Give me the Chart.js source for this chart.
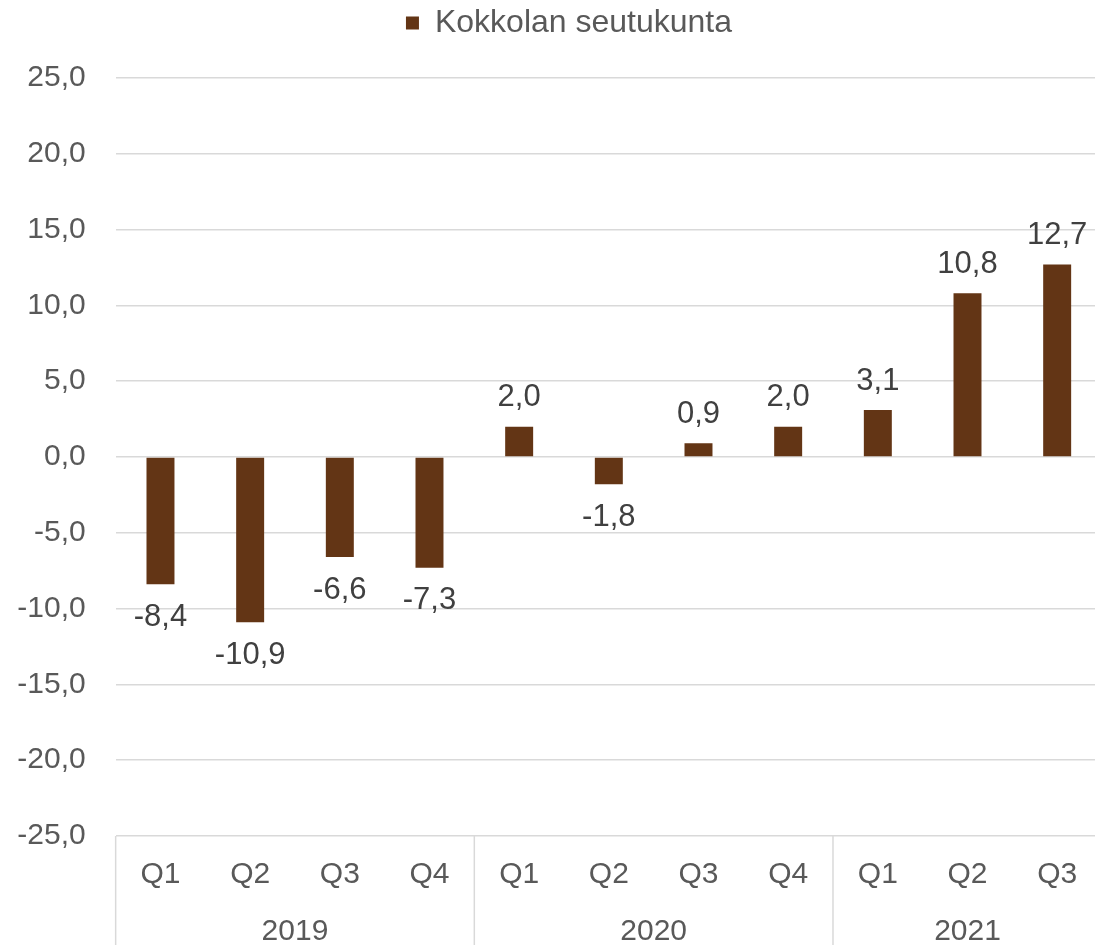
<!DOCTYPE html>
<html>
<head>
<meta charset="utf-8">
<script src="https://cdn.jsdelivr.net/npm/chart.js"></script>
<style>
  html, body { margin: 0; padding: 0; overflow: hidden; background: #fff; }
  #box { width: 1102px; height: 945px; }
</style>
</head>
<body>
<div id="box"><canvas id="chart_pylvas"></canvas></div>
<script>
// kvartaalit ja vuodet
var kvartaalit = ['Q1', 'Q2', 'Q3', 'Q4', 'Q1', 'Q2', 'Q3', 'Q4', 'Q1', 'Q2', 'Q3'];
var vuodet = ['2019', '2020', '2021'];
var kvartaaleja_vuodessa = [4, 4, 3];

// muutos-% (Kokkolan seutukunta)
var arvot = [-8.4, -10.9, -6.6, -7.3, 2.0, -1.8, 0.9, 2.0, 3.1, 10.8, 12.7];

var y_min = -25;
var y_max = 25;
var y_askel = 5;

var fontti = '"Liberation Sans", Arial, sans-serif';

function pilkulla(v) {
  return Number(v).toFixed(1).replace('.', ',');
}

// arvot palkkien päälle / alle
const arvoPlugin = {
  id: 'arvot',
  afterLayout(chart) {
    // selite hieman oikealle ja ylös, kuten alkuperäisessä
    chart.legend.left += 18;
    chart.legend.right += 18;
    chart.legend.top -= 29;
    chart.legend.bottom -= 29;
  },
  afterDatasetsDraw(chart) {
    const ctx = chart.ctx;
    const meta = chart.getDatasetMeta(0);
    ctx.save();
    ctx.font = '31px ' + fontti;
    ctx.fillStyle = '#404040';
    ctx.textAlign = 'center';
    ctx.textBaseline = 'middle';
    meta.data.forEach(function (bar, i) {
      var v = arvot[i];
      var y = v >= 0 ? bar.y - 29 : bar.y + 33;
      ctx.fillText(pilkulla(v), bar.x, y);
    });
    ctx.restore();
  }
};

// vuosirivi ja pystyviivat x-akselin alle
const vuosiPlugin = {
  id: 'vuodet',
  afterDraw(chart) {
    const ctx = chart.ctx;
    const x = chart.scales.x;
    const leveys = x.getPixelForValue(1) - x.getPixelForValue(0);
    const ala = chart.chartArea.bottom;
    ctx.save();
    ctx.strokeStyle = '#d9d9d9';
    ctx.lineWidth = 1.5;
    ctx.font = '30px ' + fontti;
    ctx.fillStyle = '#595959';
    ctx.textAlign = 'center';
    ctx.textBaseline = 'middle';
    var alku = 0;
    for (var i = 0; i < vuodet.length; i++) {
      var loppu = alku + kvartaaleja_vuodessa[i] - 1;
      var vasen = x.getPixelForValue(alku) - leveys / 2;
      ctx.beginPath();
      ctx.moveTo(vasen, ala);
      ctx.lineTo(vasen, chart.height);
      ctx.stroke();
      var keski = (x.getPixelForValue(alku) + x.getPixelForValue(loppu)) / 2;
      ctx.fillText(vuodet[i], keski, 932);
      alku = loppu + 1;
    }
    ctx.restore();
  }
};

const pylvas = document.getElementById('chart_pylvas');

new Chart(pylvas, {
  type: 'bar',
  data: {
    labels: kvartaalit,
    datasets: [{
      label: 'Kokkolan seutukunta',
      data: arvot,
      backgroundColor: '#633515',
      borderWidth: 0,
      barPercentage: 0.312,
      categoryPercentage: 1
    }]
  },
  options: {
    responsive: true,
    maintainAspectRatio: false,
    animation: false,
    plugins: {
      legend: {
        position: 'top',
        labels: {
          boxWidth: 13,
          boxHeight: 13,
          padding: 3,
          color: '#595959',
          font: { size: 32, family: fontti }
        }
      },
      tooltip: { enabled: false }
    },
    scales: {
      x: {
        grid: { display: false },
        border: { display: false },
        ticks: {
          color: '#595959',
          padding: 13,
          font: { size: 30, family: fontti }
        },
        afterFit(scale) {
          scale.height = 109;
        }
      },
      y: {
        min: y_min,
        max: y_max,
        grid: { color: '#d9d9d9', lineWidth: 1.5, drawTicks: false },
        border: { display: false },
        ticks: {
          stepSize: y_askel,
          padding: 30,
          color: '#595959',
          font: { size: 30, family: fontti },
          callback: function (v) { return pilkulla(v); }
        },
        afterFit(scale) {
          scale.width = 115.65;
          scale.paddingTop = 78;
        }
      }
    }
  },
  plugins: [arvoPlugin, vuosiPlugin]
});
</script>
</body>
</html>
